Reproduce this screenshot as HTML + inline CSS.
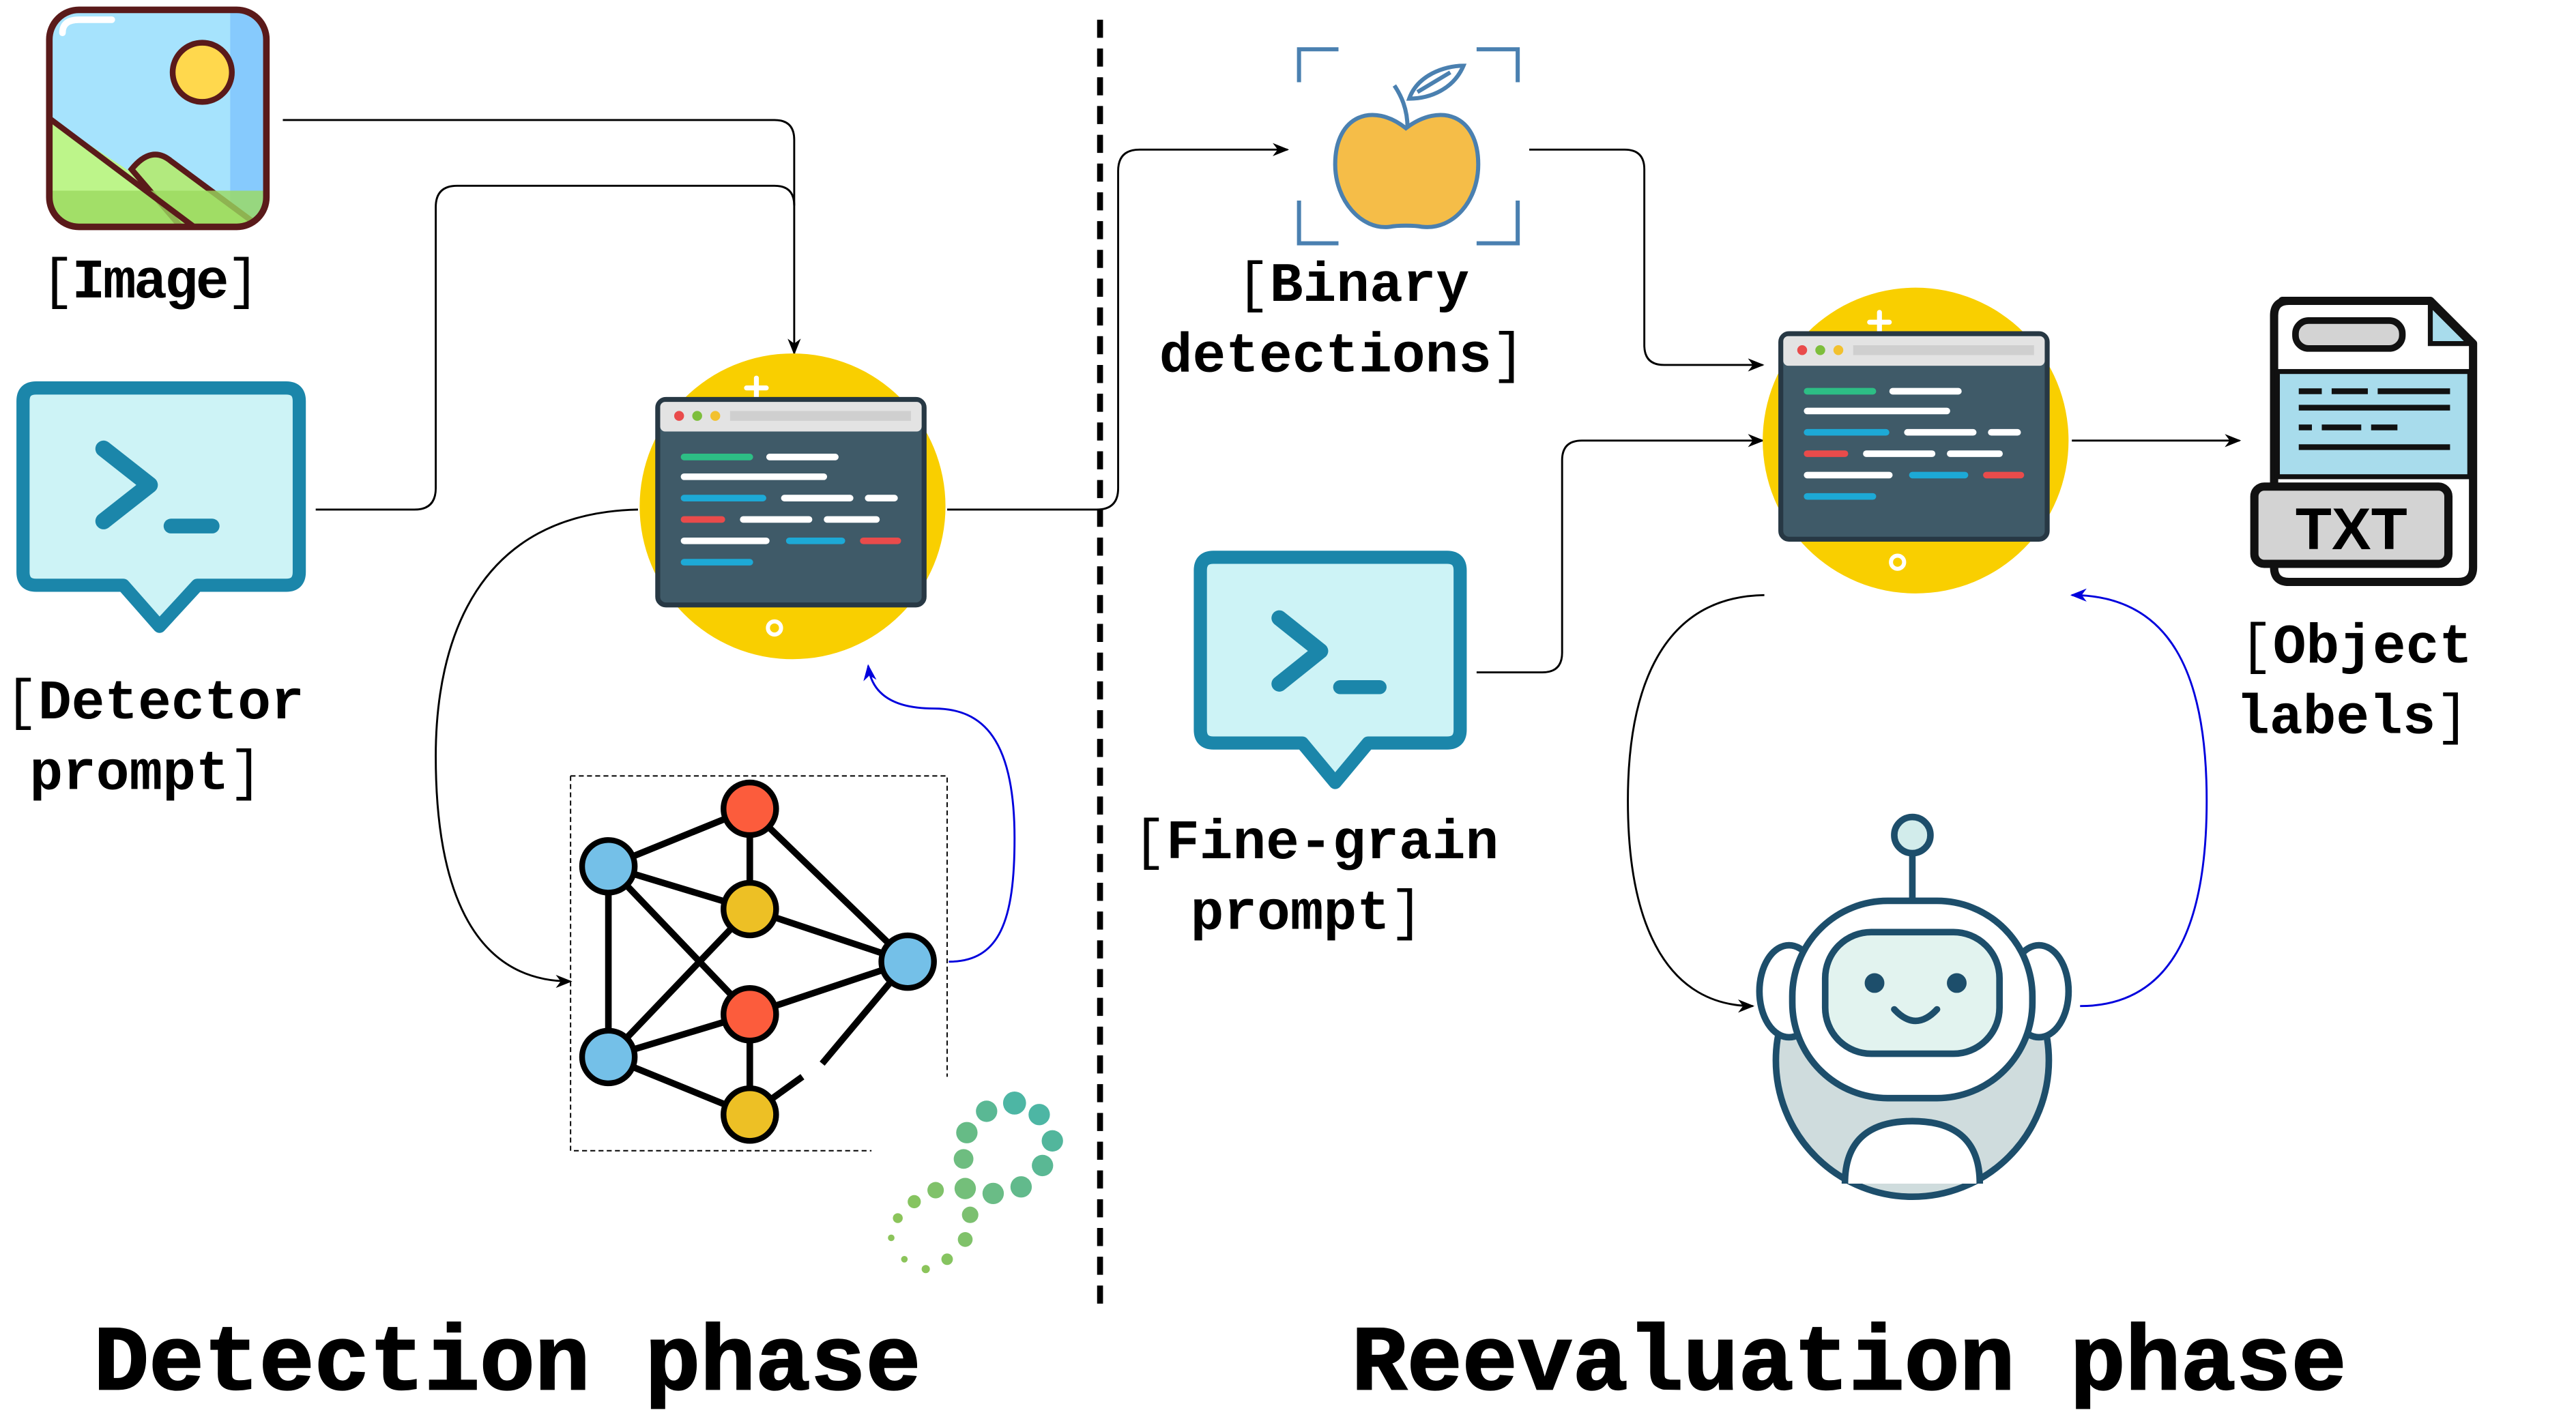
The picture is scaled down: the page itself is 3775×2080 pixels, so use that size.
<!DOCTYPE html>
<html><head><meta charset="utf-8"><style>
html,body{margin:0;padding:0;background:#fff;}
svg{display:block;}
text{font-family:"Liberation Mono","Courier New",monospace;fill:#000;}
.lb{font-size:33.7px;font-weight:bold;}
.br{font-weight:normal;}
.tt{font-size:56px;font-weight:bold;stroke:#000;stroke-width:1;}
</style></head><body>
<svg width="3775" height="2080" viewBox="0 0 1566.6 863.2" preserveAspectRatio="none" xmlns="http://www.w3.org/2000/svg">
<defs>
<marker id="ab" markerWidth="10" markerHeight="8" refX="9" refY="4" orient="auto" markerUnits="userSpaceOnUse"><path d="M0,0 L10,4 L0,8 L3,4 z" fill="#000"/></marker>
<marker id="au" markerWidth="10" markerHeight="8" refX="9" refY="4" orient="auto" markerUnits="userSpaceOnUse"><path d="M0,0 L10,4 L0,8 L3,4 z" fill="#0000dd"/></marker>
<g id="comp">
<circle cx="0" cy="0" r="93" fill="#F9CF00"/>
<path d="M-22,-78 v12 M-28,-72 h12" stroke="#fff" stroke-width="3" stroke-linecap="round"/>
<circle cx="-11" cy="74" r="4" fill="none" stroke="#fff" stroke-width="2.5"/>
<rect x="-82" y="-65" width="162" height="125" rx="5" fill="#3F5A68" stroke="#273844" stroke-width="3"/>
<rect x="-80.5" y="-63.5" width="159" height="18" rx="3" fill="#E3E3E3"/>
<circle cx="-69" cy="-55" r="3" fill="#E94B4B"/><circle cx="-58" cy="-55" r="3" fill="#7DBE3C"/><circle cx="-47" cy="-55" r="3" fill="#F2C12E"/>
<rect x="-38" y="-58" width="110" height="6" fill="#CFCFCF"/>
<g stroke-width="4" stroke-linecap="round">
<path d="M-66,-30 h40" stroke="#2DBE85"/><path d="M-14,-30 h40" stroke="#fff"/>
<path d="M-66,-18 h85" stroke="#fff"/>
<path d="M-66,-5 h48" stroke="#1DA9D6"/><path d="M-5,-5 h40" stroke="#fff"/><path d="M46,-5 h16" stroke="#fff"/>
<path d="M-66,8 h23" stroke="#E94B4B"/><path d="M-30,8 h40" stroke="#fff"/><path d="M21,8 h30" stroke="#fff"/>
<path d="M-66,21 h50" stroke="#fff"/><path d="M-2,21 h32" stroke="#1DA9D6"/><path d="M43,21 h21" stroke="#E94B4B"/>
<path d="M-66,34 h40" stroke="#1DA9D6"/>
</g>
</g>
</defs>

<line x1="669" y1="12" x2="669" y2="798" stroke="#000" stroke-width="3.6" stroke-dasharray="11,6.5"/>

<g fill="none" stroke="#000" stroke-width="1.2">
<path d="M172,73 H471 Q483,73 483,85 V215" marker-end="url(#ab)"/>
<path d="M192,310 H252 Q265,310 265,297 V126 Q265,113 278,113 H471 Q483,113 483,125"/>
<path d="M388,310 C290,312 265,390 265,460 C265,545 290,597 347,597" marker-end="url(#ab)"/>
<path d="M576,310 H667 Q680,310 680,297 V104 Q680,91 693,91 H783" marker-end="url(#ab)"/>
<path d="M930,91 H988 Q1000,91 1000,103 V210 Q1000,222 1012,222 H1072" marker-end="url(#ab)"/>
<path d="M898,409 H938 Q950,409 950,397 V280 Q950,268 962,268 H1072" marker-end="url(#ab)"/>
<path d="M1260,268 H1362" marker-end="url(#ab)"/>
<path d="M1073,362 C1010,363 990,420 990,487 C990,565 1015,612 1066,612" marker-end="url(#ab)"/>
</g>
<g fill="none" stroke="#0000dd" stroke-width="1.2">
<path d="M577,585 C608,585 617,560 617,510 C617,450 598,431 568,431 C543,431 530,422 528,405" marker-end="url(#au)"/>
<path d="M1265,612 C1320,612 1342,565 1342,487 C1342,410 1320,362 1260,362" marker-end="url(#au)"/>
</g>

<g>
<clipPath id="ic"><rect x="30" y="6" width="132" height="132" rx="18"/></clipPath>
<g clip-path="url(#ic)">
<rect x="30" y="6" width="132" height="132" fill="#A6E3FD"/>
<rect x="140" y="6" width="22" height="132" fill="#86CAFD"/>
<path d="M30,72 L130,138 L30,138 Z" fill="#BDF58A"/>
<path d="M80,103 Q92,88 104,98 L158,138 L110,138 Z" fill="#B2EA7E" stroke="#5A1A1A" stroke-width="3.5"/>
<rect x="30" y="116" width="132" height="22" fill="#9BDA5F" opacity="0.8"/>
<path d="M30,72 L118,138" stroke="#5A1A1A" stroke-width="3.5"/>
</g>
<rect x="30" y="6" width="132" height="132" rx="18" fill="none" stroke="#5A1A1A" stroke-width="4"/>
<path d="M38,20 Q38,12 48,12 h20" stroke="#fff" stroke-width="4" fill="none" stroke-linecap="round"/>
<circle cx="123" cy="44" r="18" fill="#FFD84D" stroke="#5A1A1A" stroke-width="3.5"/>
</g>

<g>
<path d="M22,236 H174 Q182,236 182,244 V348 Q182,356 174,356 H120 L97,381 L75,356 H22 Q14,356 14,348 V244 Q14,236 22,236 Z" fill="#CDF3F6" stroke="#1B86AA" stroke-width="8" stroke-linejoin="round"/>
<path d="M63,273 L91,295 L63,317" fill="none" stroke="#1B86AA" stroke-width="10" stroke-linecap="round" stroke-linejoin="round"/>
<path d="M104,320 H129" stroke="#1B86AA" stroke-width="9" stroke-linecap="round"/>
</g>

<g>
<path d="M738,339 H880 Q888,339 888,347 V444 Q888,452 880,452 H832 L812,476 L792,452 H738 Q730,452 730,444 V347 Q730,339 738,339 Z" fill="#CDF3F6" stroke="#1B86AA" stroke-width="8" stroke-linejoin="round"/>
<path d="M778,376 L803,396 L778,416" fill="none" stroke="#1B86AA" stroke-width="9.5" stroke-linecap="round" stroke-linejoin="round"/>
<path d="M815,418 H839" stroke="#1B86AA" stroke-width="8.5" stroke-linecap="round"/>
</g>

<use href="#comp" x="482" y="308"/>
<use href="#comp" x="1165" y="268"/>

<g>
<path d="M347,472 H576 V655 M347,472 V700 H530" fill="none" stroke="#000" stroke-width="0.8" stroke-dasharray="3,2"/>
<g stroke="#000" stroke-width="4">
<line x1="370" y1="527" x2="456" y2="492"/><line x1="370" y1="527" x2="456" y2="553"/>
<line x1="370" y1="527" x2="370" y2="643"/><line x1="370" y1="527" x2="456" y2="617"/>
<line x1="456" y1="492" x2="456" y2="553"/><line x1="456" y1="492" x2="552" y2="585"/>
<line x1="456" y1="553" x2="552" y2="585"/><line x1="456" y1="553" x2="370" y2="643"/>
<line x1="370" y1="643" x2="456" y2="617"/><line x1="456" y1="617" x2="552" y2="585"/>
<line x1="456" y1="617" x2="456" y2="678"/><line x1="370" y1="643" x2="456" y2="678"/>
<line x1="456" y1="678" x2="488" y2="655"/><line x1="500" y1="647" x2="552" y2="585"/>
</g>
<g stroke="#000" stroke-width="3.5">
<circle cx="370" cy="527" r="16" fill="#74C0E8"/><circle cx="456" cy="492" r="16" fill="#FC5C3C"/>
<circle cx="456" cy="553" r="16" fill="#EDC025"/><circle cx="552" cy="585" r="16" fill="#74C0E8"/>
<circle cx="456" cy="617" r="16" fill="#FC5C3C"/><circle cx="370" cy="643" r="16" fill="#74C0E8"/>
<circle cx="456" cy="678" r="16" fill="#EDC025"/>
</g>
</g>

<g>
<circle cx="617" cy="671" r="7" fill="#4DB6A4"/><circle cx="632" cy="678" r="6.5" fill="#4DB6A4"/>
<circle cx="640" cy="694" r="6.5" fill="#52B69C"/><circle cx="634" cy="709" r="6.5" fill="#5AB894"/>
<circle cx="621" cy="722" r="6.5" fill="#62BA8C"/><circle cx="604" cy="726" r="6.5" fill="#6ABC86"/>
<circle cx="600" cy="676" r="6.5" fill="#5AB894"/><circle cx="588" cy="689" r="6.5" fill="#66BB86"/>
<circle cx="586" cy="705" r="6" fill="#6EBD80"/><circle cx="587" cy="723" r="6.5" fill="#74BF7A"/>
<circle cx="590" cy="739" r="5" fill="#7CC070"/><circle cx="587" cy="754" r="4.5" fill="#80C26A"/>
<circle cx="576" cy="766" r="3.5" fill="#86C460"/><circle cx="563" cy="772" r="2.5" fill="#8BC45A"/>
<circle cx="550" cy="766" r="2" fill="#8BC45A"/><circle cx="569" cy="724" r="5" fill="#80C26A"/>
<circle cx="556" cy="731" r="4" fill="#86C460"/><circle cx="546" cy="741" r="3" fill="#8BC45A"/>
<circle cx="542" cy="753" r="2" fill="#8BC45A"/>
</g>

<g fill="none" stroke="#4A80B0" stroke-width="2.5">
<path d="M790,50 V30 H814 M898,30 H923 V50 M790,122 V148 H814 M898,148 H923 V122"/>
<path d="M855,78 C835,62 812,70 812,100 C812,122 828,140 845,138 C850,137 860,137 865,138 C884,140 899,122 899,100 C899,70 876,62 855,78 Z" fill="#F5BD48"/>
<path d="M856,78 C856,66 852,58 848,52"/>
<path d="M857,60 C862,46 878,40 890,40 C884,54 870,60 857,60 Z" fill="#fff"/>
<path d="M862,56 L882,44"/>
</g>

<g>
<path d="M1388,183 H1478 L1504,209 V345 Q1504,354 1495,354 H1392 Q1383,354 1383,345 V192 Q1383,183 1392,183 Z" fill="#fff" stroke="#111" stroke-width="5" stroke-linejoin="round"/>
<path d="M1478,185 V209 H1502 Z" fill="#A8DCEC" stroke="#111" stroke-width="3"/>
<rect x="1385" y="226" width="117" height="64" fill="#A8DCEC" stroke="#111" stroke-width="3"/>
<rect x="1396" y="195" width="65" height="17" rx="8" fill="#D3D3D3" stroke="#111" stroke-width="4"/>
<g stroke="#111" stroke-width="3.5">
<path d="M1398,238 h14 M1418,238 h22 M1446,238 h44 M1398,248 h92 M1398,260 h8 M1412,260 h24 M1442,260 h16 M1398,272 h92"/>
</g>
<rect x="1371" y="296" width="118" height="47" rx="6" fill="#D3D3D3" stroke="#111" stroke-width="5"/>
<text x="1430" y="334" text-anchor="middle" style="font-family:'Liberation Sans',sans-serif;font-size:36px;font-weight:bold;" textLength="68" lengthAdjust="spacingAndGlyphs">TXT</text>
</g>

<g stroke="#1D4E6B" stroke-width="4">
<line x1="1163" y1="520" x2="1163" y2="548"/>
<circle cx="1163" cy="508" r="11" fill="#D2ECEB"/>
<circle cx="1163" cy="645" r="83" fill="#CFDCDD"/>
<path d="M1122,720 Q1122,682 1163,682 Q1204,682 1204,720" fill="#fff"/>
<ellipse cx="1088" cy="603" rx="18" ry="28" fill="#fff"/>
<ellipse cx="1240" cy="603" rx="18" ry="28" fill="#fff"/>
<rect x="1090" y="548" width="146" height="120" rx="58" fill="#fff"/>
<rect x="1110" y="567" width="106" height="74" rx="28" fill="#E2F3EF"/>
<circle cx="1140" cy="598" r="6" fill="#1D4E6B" stroke="none"/>
<circle cx="1190" cy="598" r="6" fill="#1D4E6B" stroke="none"/>
<path d="M1152,614 Q1165,628 1178,614" fill="none" stroke-linecap="round"/>
</g>

<text class="lb" x="25" y="181" textLength="133"><tspan class="br">[</tspan>Image<tspan class="br">]</tspan></text>
<text class="lb" x="3" y="437"><tspan class="br">[</tspan>Detector</text>
<text class="lb" x="18" y="480">prompt<tspan class="br">]</tspan></text>
<text class="lb" x="752" y="183"><tspan class="br">[</tspan>Binary</text>
<text class="lb" x="705" y="226">detections<tspan class="br">]</tspan></text>
<text class="lb" x="689" y="522"><tspan class="br">[</tspan>Fine-grain</text>
<text class="lb" x="724" y="565">prompt<tspan class="br">]</tspan></text>
<text class="lb" x="1362" y="403"><tspan class="br">[</tspan>Object</text>
<text class="lb" x="1360" y="446">labels<tspan class="br">]</tspan></text>

<text class="tt" x="57" y="845" textLength="503" lengthAdjust="spacingAndGlyphs">Detection phase</text>
<text class="tt" x="822" y="845" textLength="605" lengthAdjust="spacingAndGlyphs">Reevaluation phase</text>
</svg>
</body></html>
